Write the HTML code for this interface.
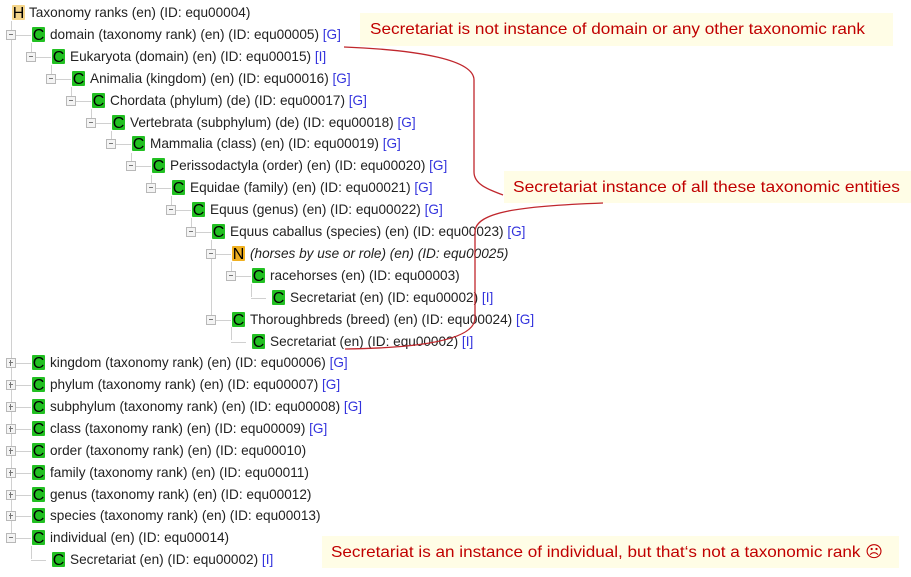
<!DOCTYPE html>
<html><head><meta charset="utf-8"><style>
body{margin:0;width:911px;height:577px;background:#fff;position:relative;overflow:hidden;font-family:"Liberation Sans",Arial,sans-serif;font-size:13.6px;color:#222}
.r{position:absolute;height:16px;line-height:16px;white-space:nowrap}
.i{position:absolute;top:0;width:13px;height:15px;background:#22c022;color:#000;font-size:16px;line-height:17px;text-align:center;border-radius:1px;overflow:hidden}
.t{position:absolute;top:0}
.g{color:#33d}
.ex{position:absolute;top:3px;width:8px;height:8px;border:1px solid #b8b8b8;background:#f4f4f4}
.ex:after{content:"";position:absolute;left:2px;top:3px;width:4px;height:1px;background:#777}
.p:before{content:"";position:absolute;left:3px;top:1px;width:1px;height:6px;background:#777}
.vl{position:absolute;width:1px;background:#d0d0d0}
.hl{position:absolute;height:1px;background:#d0d0d0}
</style></head><body>

<div class="vl" style="left:11px;top:21px;height:517px"></div>
<div class="vl" style="left:31px;top:43px;height:13px"></div>
<div class="vl" style="left:51px;top:65px;height:13px"></div>
<div class="vl" style="left:71px;top:87px;height:13px"></div>
<div class="vl" style="left:91px;top:109px;height:13px"></div>
<div class="vl" style="left:111px;top:131px;height:13px"></div>
<div class="vl" style="left:131px;top:153px;height:13px"></div>
<div class="vl" style="left:151px;top:175px;height:13px"></div>
<div class="vl" style="left:171px;top:196px;height:13px"></div>
<div class="vl" style="left:191px;top:218px;height:13px"></div>
<div class="vl" style="left:211px;top:240px;height:80px"></div>
<div class="vl" style="left:231px;top:262px;height:13px"></div>
<div class="vl" style="left:251px;top:284px;height:13px"></div>
<div class="vl" style="left:231px;top:327px;height:13px"></div>
<div class="vl" style="left:31px;top:546px;height:13px"></div>

<div class="r" style="top:5px;left:0"><span class="i" style="left:12px;background:#f5d58a">H</span><span class="t" style="left:29px">Taxonomy ranks (en) (ID: equ00004)</span></div>

<div class="r" style="top:27px;left:0"><span class="hl" style="left:16px;top:8px;width:15px"></span><span class="ex" style="left:6px"></span><span class="i" style="left:32px">C</span><span class="t" style="left:50px">domain (taxonomy rank) (en) (ID: equ00005) <span class="g">[G]</span></span></div>
<div class="r" style="top:49px;left:20px"><span class="hl" style="left:16px;top:8px;width:15px"></span><span class="ex" style="left:6px"></span><span class="i" style="left:32px">C</span><span class="t" style="left:50px">Eukaryota (domain) (en) (ID: equ00015) <span class="g">[I]</span></span></div>
<div class="r" style="top:71px;left:40px"><span class="hl" style="left:16px;top:8px;width:15px"></span><span class="ex" style="left:6px"></span><span class="i" style="left:32px">C</span><span class="t" style="left:50px">Animalia (kingdom) (en) (ID: equ00016) <span class="g">[G]</span></span></div>
<div class="r" style="top:93px;left:60px"><span class="hl" style="left:16px;top:8px;width:15px"></span><span class="ex" style="left:6px"></span><span class="i" style="left:32px">C</span><span class="t" style="left:50px">Chordata (phylum) (de) (ID: equ00017) <span class="g">[G]</span></span></div>
<div class="r" style="top:115px;left:80px"><span class="hl" style="left:16px;top:8px;width:15px"></span><span class="ex" style="left:6px"></span><span class="i" style="left:32px">C</span><span class="t" style="left:50px">Vertebrata (subphylum) (de) (ID: equ00018) <span class="g">[G]</span></span></div>
<div class="r" style="top:136px;left:100px"><span class="hl" style="left:16px;top:8px;width:15px"></span><span class="ex" style="left:6px"></span><span class="i" style="left:32px">C</span><span class="t" style="left:50px">Mammalia (class) (en) (ID: equ00019) <span class="g">[G]</span></span></div>
<div class="r" style="top:158px;left:120px"><span class="hl" style="left:16px;top:8px;width:15px"></span><span class="ex" style="left:6px"></span><span class="i" style="left:32px">C</span><span class="t" style="left:50px">Perissodactyla (order) (en) (ID: equ00020) <span class="g">[G]</span></span></div>
<div class="r" style="top:180px;left:140px"><span class="hl" style="left:16px;top:8px;width:15px"></span><span class="ex" style="left:6px"></span><span class="i" style="left:32px">C</span><span class="t" style="left:50px">Equidae (family) (en) (ID: equ00021) <span class="g">[G]</span></span></div>
<div class="r" style="top:202px;left:160px"><span class="hl" style="left:16px;top:8px;width:15px"></span><span class="ex" style="left:6px"></span><span class="i" style="left:32px">C</span><span class="t" style="left:50px">Equus (genus) (en) (ID: equ00022) <span class="g">[G]</span></span></div>
<div class="r" style="top:224px;left:180px"><span class="hl" style="left:16px;top:8px;width:15px"></span><span class="ex" style="left:6px"></span><span class="i" style="left:32px">C</span><span class="t" style="left:50px">Equus caballus (species) (en) (ID: equ00023) <span class="g">[G]</span></span></div>
<div class="r" style="top:246px;left:200px"><span class="hl" style="left:16px;top:8px;width:15px"></span><span class="ex" style="left:6px"></span><span class="i" style="left:32px;background:#f0b020">N</span><span class="t" style="left:50px;font-style:italic">(horses by use or role) (en) (ID: equ00025)</span></div>
<div class="r" style="top:268px;left:220px"><span class="hl" style="left:16px;top:8px;width:15px"></span><span class="ex" style="left:6px"></span><span class="i" style="left:32px">C</span><span class="t" style="left:50px">racehorses (en) (ID: equ00003)</span></div>
<div class="r" style="top:290px;left:240px"><span class="hl" style="left:11px;top:8px;width:15px"></span><span class="i" style="left:32px">C</span><span class="t" style="left:50px">Secretariat (en) (ID: equ00002) <span class="g">[I]</span></span></div>
<div class="r" style="top:312px;left:200px"><span class="hl" style="left:16px;top:8px;width:15px"></span><span class="ex" style="left:6px"></span><span class="i" style="left:32px">C</span><span class="t" style="left:50px">Thoroughbreds (breed) (en) (ID: equ00024) <span class="g">[G]</span></span></div>
<div class="r" style="top:334px;left:220px"><span class="hl" style="left:11px;top:8px;width:15px"></span><span class="i" style="left:32px">C</span><span class="t" style="left:50px">Secretariat (en) (ID: equ00002) <span class="g">[I]</span></span></div>

<div class="r" style="top:355px;left:0"><span class="hl" style="left:16px;top:8px;width:15px"></span><span class="ex p" style="left:6px"></span><span class="i" style="left:32px">C</span><span class="t" style="left:50px">kingdom (taxonomy rank) (en) (ID: equ00006) <span class="g">[G]</span></span></div>
<div class="r" style="top:377px;left:0"><span class="hl" style="left:16px;top:8px;width:15px"></span><span class="ex p" style="left:6px"></span><span class="i" style="left:32px">C</span><span class="t" style="left:50px">phylum (taxonomy rank) (en) (ID: equ00007) <span class="g">[G]</span></span></div>
<div class="r" style="top:399px;left:0"><span class="hl" style="left:16px;top:8px;width:15px"></span><span class="ex p" style="left:6px"></span><span class="i" style="left:32px">C</span><span class="t" style="left:50px">subphylum (taxonomy rank) (en) (ID: equ00008) <span class="g">[G]</span></span></div>
<div class="r" style="top:421px;left:0"><span class="hl" style="left:16px;top:8px;width:15px"></span><span class="ex p" style="left:6px"></span><span class="i" style="left:32px">C</span><span class="t" style="left:50px">class (taxonomy rank) (en) (ID: equ00009) <span class="g">[G]</span></span></div>
<div class="r" style="top:443px;left:0"><span class="hl" style="left:16px;top:8px;width:15px"></span><span class="ex p" style="left:6px"></span><span class="i" style="left:32px">C</span><span class="t" style="left:50px">order (taxonomy rank) (en) (ID: equ00010)</span></div>
<div class="r" style="top:465px;left:0"><span class="hl" style="left:16px;top:8px;width:15px"></span><span class="ex p" style="left:6px"></span><span class="i" style="left:32px">C</span><span class="t" style="left:50px">family (taxonomy rank) (en) (ID: equ00011)</span></div>
<div class="r" style="top:487px;left:0"><span class="hl" style="left:16px;top:8px;width:15px"></span><span class="ex p" style="left:6px"></span><span class="i" style="left:32px">C</span><span class="t" style="left:50px">genus (taxonomy rank) (en) (ID: equ00012)</span></div>
<div class="r" style="top:508px;left:0"><span class="hl" style="left:16px;top:8px;width:15px"></span><span class="ex p" style="left:6px"></span><span class="i" style="left:32px">C</span><span class="t" style="left:50px">species (taxonomy rank) (en) (ID: equ00013)</span></div>
<div class="r" style="top:530px;left:0"><span class="hl" style="left:16px;top:8px;width:15px"></span><span class="ex" style="left:6px"></span><span class="i" style="left:32px">C</span><span class="t" style="left:50px">individual (en) (ID: equ00014)</span></div>
<div class="r" style="top:552px;left:20px"><span class="hl" style="left:11px;top:8px;width:15px"></span><span class="i" style="left:32px">C</span><span class="t" style="left:50px">Secretariat (en) (ID: equ00002) <span class="g">[I]</span></span></div>

<svg width="911" height="577" style="position:absolute;left:0;top:0" xmlns="http://www.w3.org/2000/svg">
<rect x="360" y="13" width="533" height="33" fill="#fffde6"/>
<rect x="504" y="171" width="407" height="32" fill="#fffde6"/>
<rect x="322" y="536" width="577" height="32" fill="#fffde6"/>
<g font-family="Liberation Sans, Arial, sans-serif" font-size="16" fill="#c00000">
<text x="370" y="34" textLength="495" lengthAdjust="spacingAndGlyphs">Secretariat is not instance of domain or any other taxonomic rank</text>
<text x="513" y="192" textLength="387" lengthAdjust="spacingAndGlyphs">Secretariat instance of  all these taxonomic  entities</text>
<text x="331" y="557" textLength="552" lengthAdjust="spacingAndGlyphs">Secretariat is an instance of individual, but that‘s not a taxonomic rank ☹</text>
</g>
<path d="M344,47 C420,50 474,60 474,80 L474,172 C474,185 490,190 503,195" fill="none" stroke="#c0272d" stroke-width="1.3"/>
<path d="M603,203 C520,206 475,212 475,232 L475,318 C475,340 420,348 345,349" fill="none" stroke="#c0272d" stroke-width="1.3"/>
</svg>
</body></html>
